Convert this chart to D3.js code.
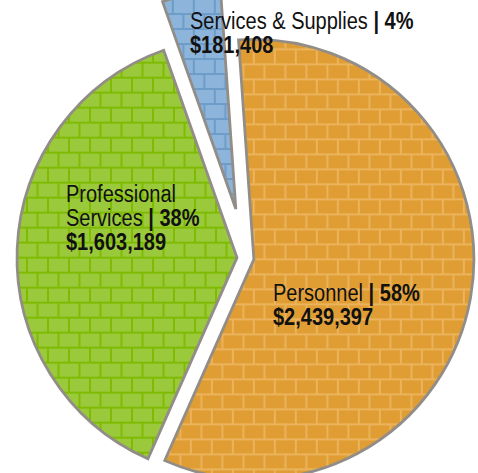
<!DOCTYPE html>
<html>
<head>
<meta charset="utf-8">
<script src="https://cdn.jsdelivr.net/npm/d3@7"></script>
<style>
  body { margin: 0; background: #fff; }
  text { font-family: "Liberation Sans", Arial, sans-serif; fill: #111; }
</style>
</head>
<body>
<div id="chart"></div>
<script>
// data
const categories = ["Personnel", "Professional Services", "Services & Supplies"];
const amounts = [2439397, 1603189, 181408];
const percents = ["58%", "38%", "4%"];

const width = 478;
const height = 473;
const cx = 246, cy = 258;
const radius = 220;

// brick + mortar colours, explode distance
const brick = { "Personnel": "#e09d33", "Professional Services": "#9bc93c", "Services & Supplies": "#8db4da" };
const mortar = { "Personnel": "#ebb35c", "Professional Services": "#7fbb02", "Services & Supplies": "#6e9cc8" };
const explode = { "Personnel": 8, "Professional Services": 9, "Services & Supplies": 50 };

const svg = d3.select("#chart").append("svg")
  .attr("width", width).attr("height", height);

const defs = svg.append("defs");
categories.forEach((c, i) => {
  const p = defs.append("pattern")
    .attr("id", "brick" + i)
    .attr("patternUnits", "userSpaceOnUse")
    .attr("width", 21).attr("height", 30);
  p.append("rect").attr("width", 21).attr("height", 30).attr("fill", mortar[c]);
  p.append("rect").attr("x", 1).attr("y", 1).attr("width", 19).attr("height", 13).attr("fill", brick[c]);
  p.append("rect").attr("x", -9.5).attr("y", 16).attr("width", 19).attr("height", 13).attr("fill", brick[c]);
  p.append("rect").attr("x", 11.5).attr("y", 16).attr("width", 19).attr("height", 13).attr("fill", brick[c]);
});

const table = categories.map((c, i) => ({ name: c, value: amounts[i], pct: percents[i], i }));

const pie = d3.pie()
  .sort(null)
  .value(d => d.value)
  .startAngle(-4 * Math.PI / 180)
  .endAngle(356 * Math.PI / 180);

const arc = d3.arc().innerRadius(0).outerRadius(radius);

const arcs = pie(table);

svg.append("g")
  .attr("transform", `translate(${cx},${cy})`)
  .selectAll("path")
  .data(arcs)
  .join("path")
  .attr("transform", d => {
    const a = (d.startAngle + d.endAngle) / 2;
    const r = explode[d.data.name];
    return `translate(${Math.sin(a) * r},${-Math.cos(a) * r})`;
  })
  .attr("d", arc)
  .attr("fill", d => `url(#brick${d.data.i})`)
  .attr("stroke", "#928d86")
  .attr("stroke-width", 2.8)
  .attr("stroke-linejoin", "miter");

// labels (narrowed to look like a condensed face)
const labels = [
  { i: 2, x: 190, y: 29, lines: [["Services & Supplies ", "| 4%"], ["", "$181,408"]] },
  { i: 1, x: 66, y: 202, lines: [["Professional", ""], ["Services ", "| 38%"], ["", "$1,603,189"]] },
  { i: 0, x: 273, y: 301, lines: [["Personnel ", "| 58%"], ["", "$2,439,397"]] }
];

labels.forEach(l => {
  const t = svg.append("g")
    .attr("transform", `translate(${l.x},${l.y}) scale(0.87,1)`)
    .append("text").style("font-size", "23px");
  l.lines.forEach((ln, k) => {
    const first = t.append("tspan").attr("x", 0).attr("y", k * 24);
    if (ln[0]) first.text(ln[0]);
    if (ln[1]) {
      const b = ln[0] ? t.append("tspan") : first;
      b.style("font-weight", "bold").text(ln[1]);
    }
  });
});
</script>
</body>
</html>
